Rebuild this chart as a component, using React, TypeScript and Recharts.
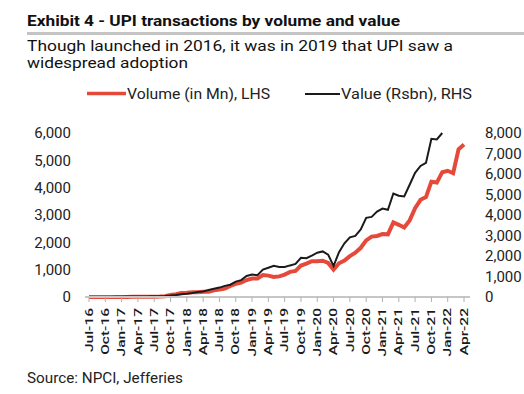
import { LineChart, Line, XAxis, YAxis } from 'recharts'

const months = [
  'Jul-16', 'Aug-16', 'Sep-16', 'Oct-16', 'Nov-16', 'Dec-16',
  'Jan-17', 'Feb-17', 'Mar-17', 'Apr-17', 'May-17', 'Jun-17', 'Jul-17', 'Aug-17', 'Sep-17', 'Oct-17', 'Nov-17', 'Dec-17',
  'Jan-18', 'Feb-18', 'Mar-18', 'Apr-18', 'May-18', 'Jun-18', 'Jul-18', 'Aug-18', 'Sep-18', 'Oct-18', 'Nov-18', 'Dec-18',
  'Jan-19', 'Feb-19', 'Mar-19', 'Apr-19', 'May-19', 'Jun-19', 'Jul-19', 'Aug-19', 'Sep-19', 'Oct-19', 'Nov-19', 'Dec-19',
  'Jan-20', 'Feb-20', 'Mar-20', 'Apr-20', 'May-20', 'Jun-20', 'Jul-20', 'Aug-20', 'Sep-20', 'Oct-20', 'Nov-20', 'Dec-20',
  'Jan-21', 'Feb-21', 'Mar-21', 'Apr-21', 'May-21', 'Jun-21', 'Jul-21', 'Aug-21', 'Sep-21', 'Oct-21', 'Nov-21', 'Dec-21',
  'Jan-22', 'Feb-22', 'Mar-22', 'Apr-22',
]

// Volume (in Mn), LHS
const volume = [
  0.1, 0.1, 0.1, 0.1, 0.3, 2,
  4, 4, 6, 7, 9, 10, 12, 17, 31, 77, 105, 146,
  152, 171, 178, 190, 190, 246, 274, 312, 406, 482, 525, 620,
  673, 674, 800, 782, 734, 754, 822, 918, 955, 1149, 1219, 1309,
  1305, 1326, 1247, 999, 1234, 1337, 1497, 1619, 1800, 2071, 2210, 2234,
  2303, 2293, 2731, 2641, 2540, 2803, 3247, 3555, 3654, 4218, 4186, 4566,
  4617, 4527, 5405, 5583,
]

// Value (Rsbn), RHS
const value = [
  0, 0, 0, 0.1, 1, 7,
  17, 19, 24, 23, 27, 31, 42, 41, 52, 70, 96, 131,
  157, 191, 242, 270, 338, 406, 459, 543, 598, 750, 823, 1025,
  1099, 1067, 1334, 1424, 1524, 1463, 1463, 1541, 1612, 1916, 1890, 2022,
  2163, 2223, 2065, 1511, 2189, 2618, 2909, 2981, 3292, 3860, 3908, 4164,
  4315, 4253, 5048, 4937, 4907, 5474, 6061, 6391, 6541, 7719, 7686, 8000,
  null, null, null, null,
]

const leftTicks = [0, 1000, 2000, 3000, 4000, 5000, 6000]
const rightTicks = [0, 1000, 2000, 3000, 4000, 5000, 6000, 7000, 8000]

const data = months.map((m, i) => ({ month: m, volume: volume[i], value: value[i] }))

const RED = '#E5493A'
const BLACK = '#1b1b1b'
const FONT = 'Roboto, sans-serif'
const fmt = (v: number) => v.toLocaleString('en-US')

function MonthTick({ x, y, payload }: any) {
  return (
    <text
      transform={`translate(${x},${y}) rotate(-90) scale(1,0.66)`}
      textAnchor="end"
      dy="0.36em"
      fontSize={15.5}
      fontWeight={500}
      fontFamily={FONT}
      fill="#1a1a1a"
    >
      {payload.value}
    </text>
  )
}

export default function App() {
  return (
    <div style={{ position: 'absolute', left: 0, top: 0, width: 524, height: 394, background: '#fff' }}>
      <LineChart
        width={524}
        height={394}
        data={data}
        margin={{ top: 133, right: 0, bottom: 27, left: 0 }}
      >
        <XAxis
          dataKey="month"
          interval={2}
          height={70}
          padding={{ left: 4, right: 6 }}
          axisLine={{ stroke: '#c6c6c6', strokeWidth: 2 }}
          tickLine={{ stroke: '#b0b0b0' }}
          tickSize={5}
          tickMargin={6}
          tick={<MonthTick />}
        />
        <YAxis
          yAxisId="left"
          width={85}
          domain={[0, 6000]}
          ticks={leftTicks}
          interval={0}
          tickFormatter={fmt}
          axisLine={false}
          tickLine={false}
          tickSize={0}
          tickMargin={14}
          tick={{ fontSize: 15, fontFamily: FONT, fill: '#222' }}
        />
        <YAxis
          yAxisId="right"
          orientation="right"
          width={54}
          domain={[0, 8000]}
          ticks={rightTicks}
          interval={0}
          tickFormatter={fmt}
          axisLine={false}
          tickLine={false}
          tickSize={0}
          tickMargin={15}
          tick={{ fontSize: 15, fontFamily: FONT, fill: '#222', textAnchor: 'start' }}
        />
        <Line
          yAxisId="left"
          type="linear"
          dataKey="volume"
          stroke={RED}
          strokeWidth={4}
          dot={false}
          isAnimationActive={false}
        />
        <Line
          yAxisId="right"
          type="linear"
          dataKey="value"
          stroke={BLACK}
          strokeWidth={2}
          dot={false}
          isAnimationActive={false}
        />
      </LineChart>

      <svg
        width={524}
        height={394}
        style={{ position: 'absolute', left: 0, top: 0, pointerEvents: 'none' }}
        fontFamily={FONT}
      >
        <text x={27} y={26} fontSize={15.5} fontWeight={700} fill="#111" textLength={373} lengthAdjust="spacingAndGlyphs">
          Exhibit 4 - UPI transactions by volume and value
        </text>
        <rect x={27} y={32} width={497} height={3} fill="#c4c4c4" />
        <text x={27} y={50.5} fontSize={15} fill="#111" textLength={426} lengthAdjust="spacingAndGlyphs">
          Though launched in 2016, it was in 2019 that UPI saw a
        </text>
        <text x={27} y={68} fontSize={15} fill="#111" textLength={161} lengthAdjust="spacingAndGlyphs">
          widespread adoption
        </text>

        <line x1={87} y1={93.5} x2={126} y2={93.5} stroke={RED} strokeWidth={3.5} />
        <text x={127} y={98.5} fontSize={15.5} fill="#222" textLength={143} lengthAdjust="spacingAndGlyphs">
          Volume (in Mn), LHS
        </text>
        <line x1={305} y1={94} x2={340} y2={94} stroke={BLACK} strokeWidth={2} />
        <text x={341} y={98.5} fontSize={15.5} fill="#222" textLength={131} lengthAdjust="spacingAndGlyphs">
          Value (Rsbn), RHS
        </text>

        <text x={27} y={383} fontSize={14.5} fill="#222" textLength={156} lengthAdjust="spacingAndGlyphs">
          Source: NPCI, Jefferies
        </text>
      </svg>
    </div>
  )
}
